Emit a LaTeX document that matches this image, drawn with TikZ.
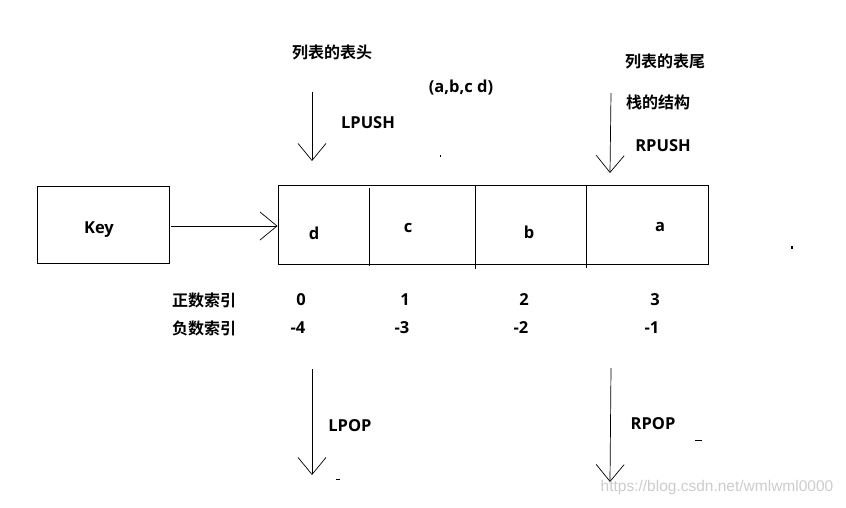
\documentclass[tikz,border=0pt]{standalone}
\usepackage{fontspec}
\setmainfont{Open Sans}[BoldFont={Open Sans Bold}]
\newfontfamily\cjk{Noto Sans CJK SC}[BoldFont={Noto Sans CJK SC Bold}]
\newfontfamily\wmfont{Liberation Sans}
\usetikzlibrary{arrows.meta}
\definecolor{ink}{HTML}{000000}
\definecolor{wmgray}{HTML}{CCCCCC}

\begin{document}
\begin{tikzpicture}[
  x=1pt, y=-1pt, font=\fontsize{16.5}{19}\selectfont\bfseries,
  box/.style={draw=ink, line width=0.9pt, inner sep=0pt},
  lbl/.style={text=ink, inner sep=0pt},
  zh/.style={lbl, font=\fontsize{16}{19}\selectfont\cjk\bfseries},
  arr/.style={draw=ink, line width=0.7pt, -{Straight Barb[length=17pt,width=28pt]}},
  speck/.style={fill=ink}
]
\useasboundingbox (0,0) rectangle (846,507);

% key and list
\node[box, minimum width=132, minimum height=77] (key) at (103,225) {};
\node[lbl] (keytxt) at (99,230) {Key};
\node[box, minimum width=430, minimum height=79] (list) at (493,224.5) {};
\draw[ink, line width=0.9pt] (369,188) -- (369,266);
\draw[ink, line width=0.9pt] (475,186) -- (475,269);
\draw[ink, line width=0.9pt] (586,185) -- (586,268);
\node[lbl] (eld) at (314,233) {d};
\node[lbl] (elc) at (408,228) {c};
\node[lbl] (elb) at (529,232) {b};
\node[lbl] (ela) at (660,227) {a};
\draw[arr] (key.east) ++(2,1) coordinate (keyout) -- (keyout -| list.west);

% head and tail
\node[zh] (head) at (332,52) {列表的表头};
\node[lbl] (tuple) at (461,88) {(a,b,c d)};
\node[lbl] (lpush) at (368,123) {LPUSH};
\coordinate (lpushtop) at (312,92);
\coordinate (lpushend) at (312,161);
\draw[arr] (lpushtop) -- (lpushend);

\node[zh] (tail) at (665,61) {列表的表尾};
\node[zh] (stack) at (658,102) {栈的结构};
\node[lbl] (rpush) at (663,146) {RPUSH};
\coordinate (rpushtop) at (611,93);
\coordinate (rpushend) at (610,173);
\draw[arr] (rpushtop) -- (rpushend);

% indexes
\node[zh] (posidx) at (204,300) {正数索引};
\node[zh] (negidx) at (204,328) {负数索引};
\foreach \x/\p/\n/\nm in {301/0/-4/0, 405/1/-3/1, 524/2/-2/2, 655/3/-1/3} {
  \node[lbl] (pos\nm) at (\x,300) {\p};
  \node[lbl] (neg\nm) at (\x-3,328) {\n};
}

% pops
\coordinate (lpoptop) at (312,369);
\coordinate (lpopend) at (312,475);
\draw[arr] (lpoptop) -- (lpopend);
\node[lbl] (lpop) at (350,426) {LPOP};
\coordinate (rpoptop) at (611,368);
\coordinate (rpopend) at (610,482);
\draw[arr] (rpoptop) -- (rpopend);
\node[lbl] (rpop) at (653,424) {RPOP};

% stray marks
\fill[speck] (439.5,155) rectangle (440.5,157);
\fill[speck] (791,245.5) rectangle (793,248.5);
\fill[speck] (336,479) rectangle (340,480);
\fill[speck] (695,440) rectangle (702,441);

\node[text=wmgray, font=\fontsize{15.5}{18}\selectfont\wmfont, inner sep=0pt] (wm) at (717,487) {https://blog.csdn.net/wmlwml0000};
\end{tikzpicture}
\end{document}
